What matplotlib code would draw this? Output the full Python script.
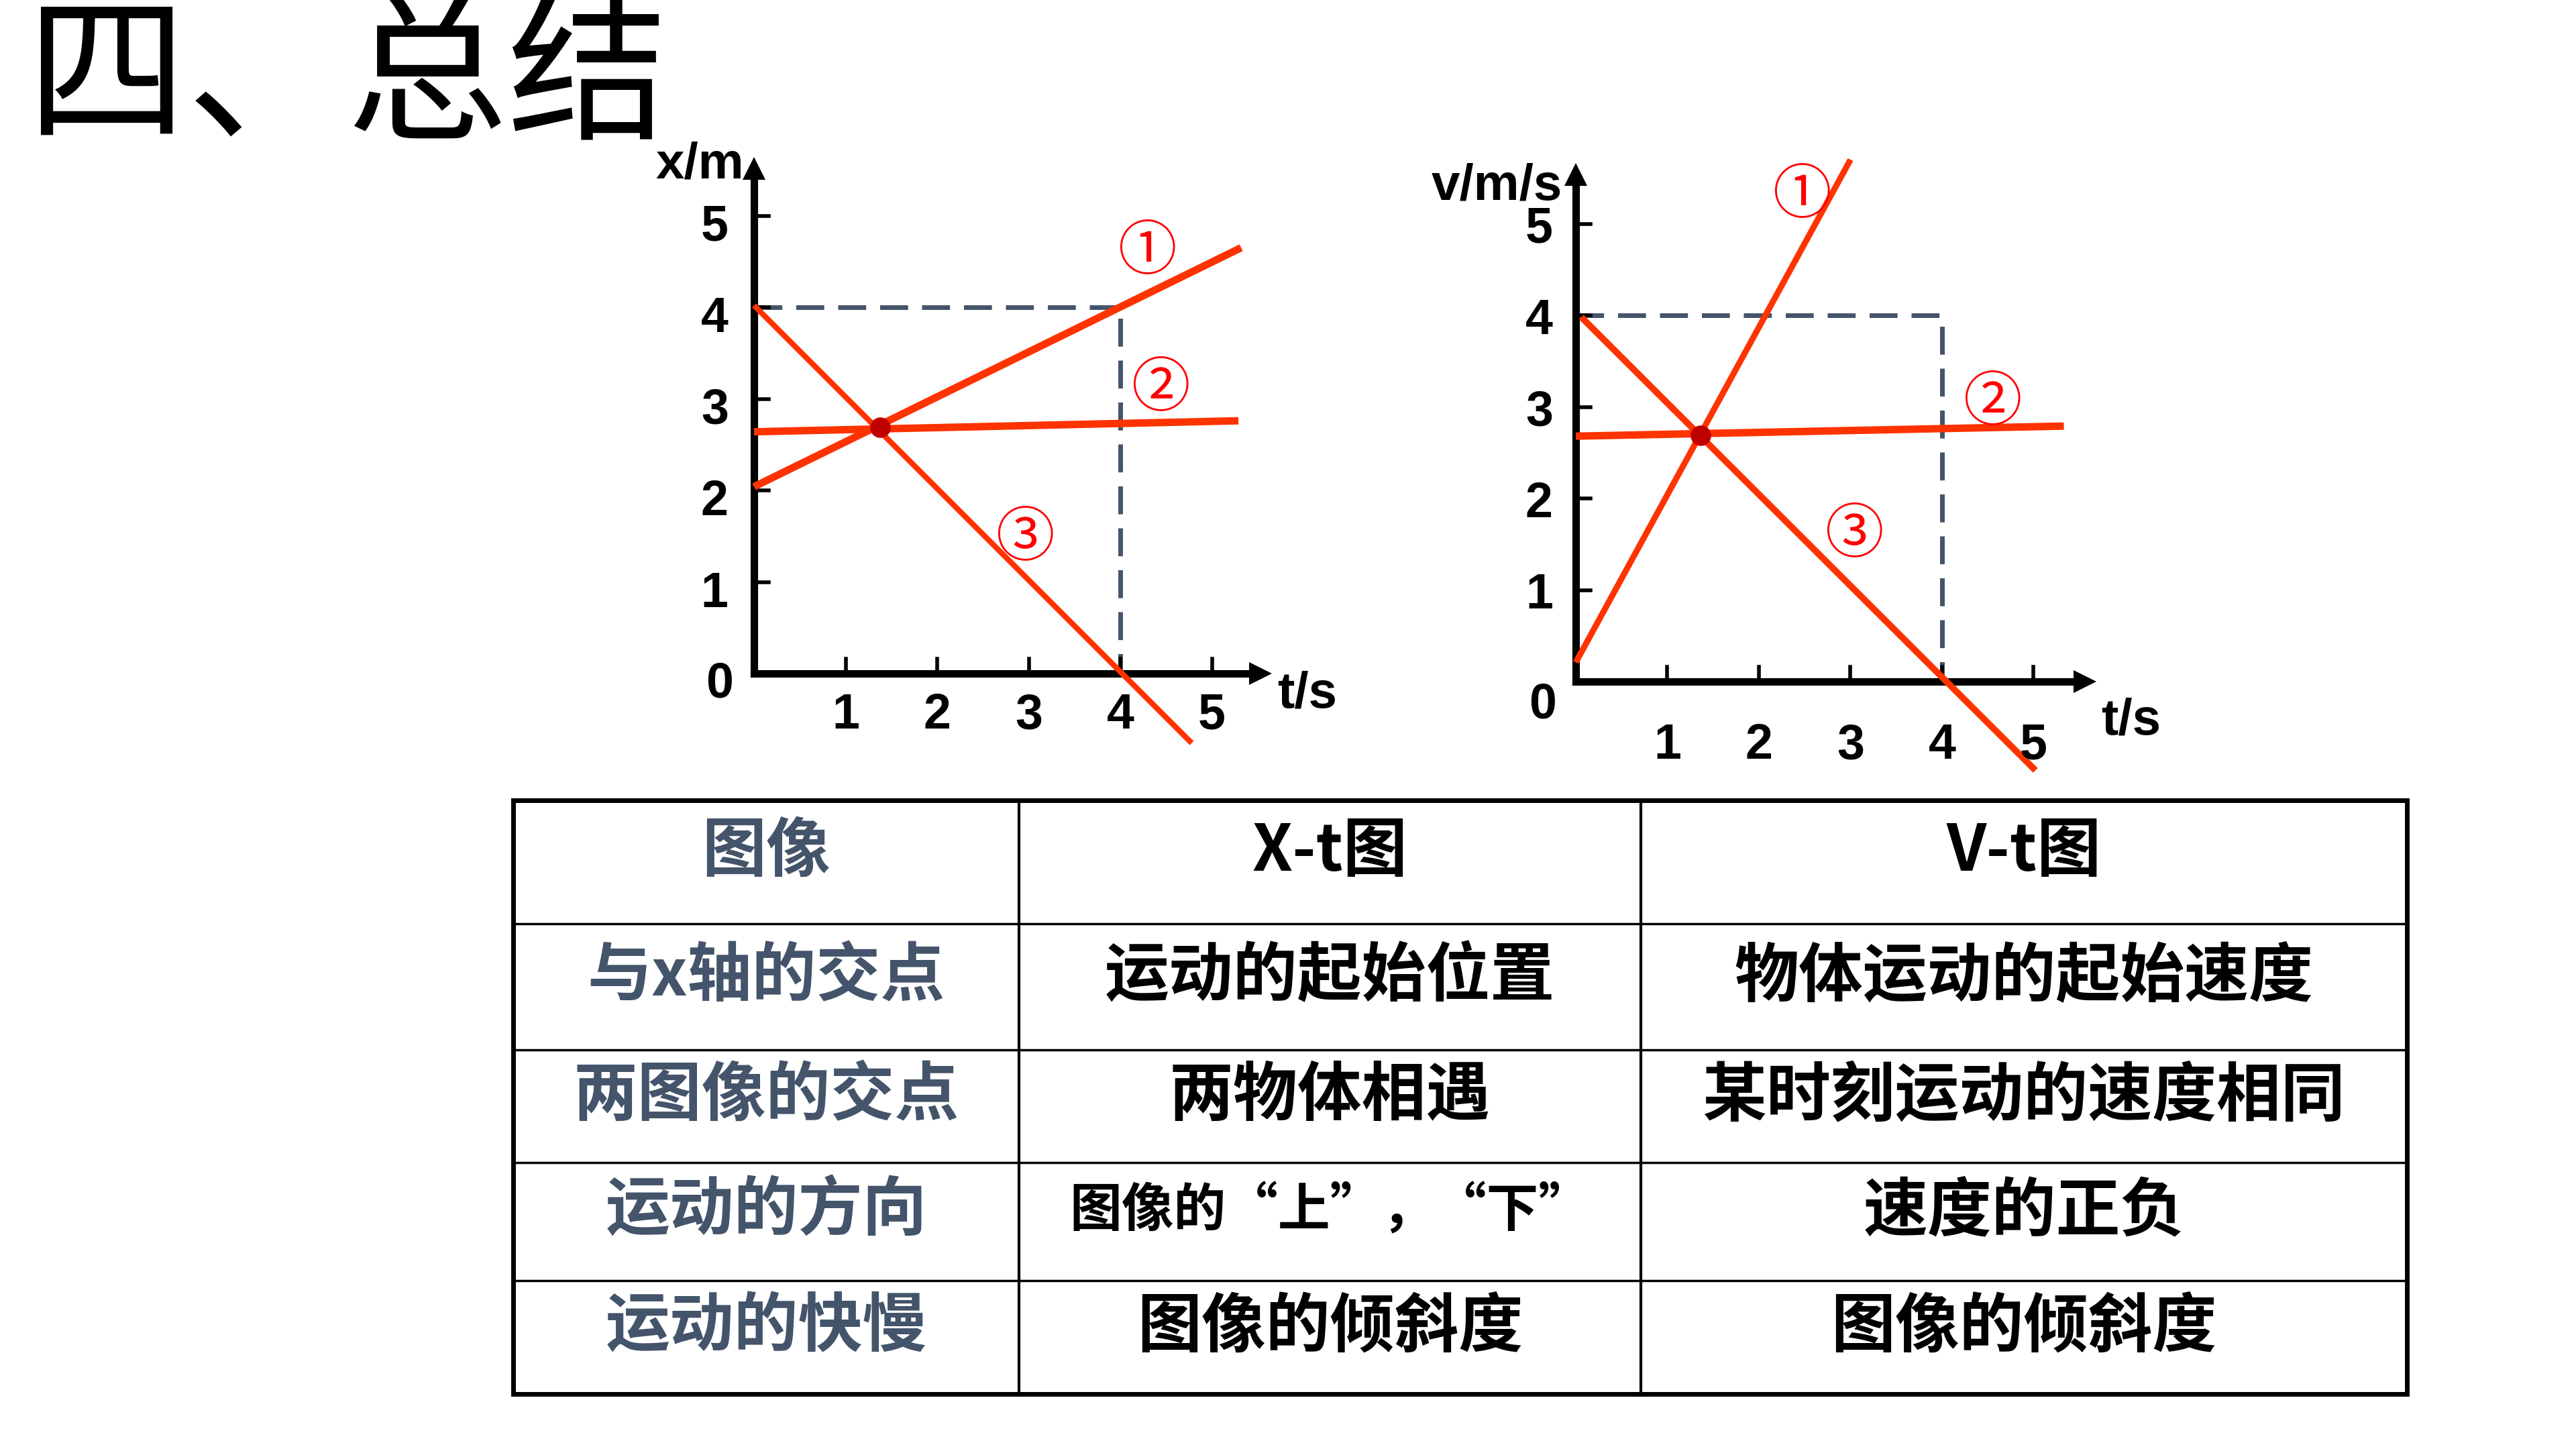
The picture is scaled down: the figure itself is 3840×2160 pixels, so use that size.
import matplotlib.pyplot as plt

W, H = 3840, 2160
CJK = ['Noto Sans CJK SC', 'DejaVu Sans']
RED = '#FF3300'
SLATE = '#44546A'

# x-t chart (t in s, x in m)
xt_ticks = [1, 2, 3, 4, 5]
xt_l1_t = [0.0, 5.32]
xt_l1_y = [2.04, 4.65]
xt_l2_t = [0.0, 5.29]
xt_l2_y = [2.64, 2.76]
xt_l3_t = [0.0, 4.78]
xt_l3_y = [4.02, -0.76]
xt_meet = [1.38, 2.69]
xt_guide_t = [0, 4, 4]
xt_guide_y = [4, 4, 0]

# v-t chart (t in s, v in m/s)
vt_ticks = [1, 2, 3, 4, 5]
vt_l1_t = [0.0, 3.0]
vt_l1_y = [0.21, 5.70]
vt_l2_t = [0.0, 5.33]
vt_l2_y = [2.68, 2.79]
vt_l3_t = [0.06, 5.02]
vt_l3_y = [3.98, -0.97]
vt_meet = [1.36, 2.69]
vt_guide_t = [0, 4, 4]
vt_guide_y = [4, 4, 0]

# summary table
col_header = ['图像', 'X-t图', 'V-t图']
row_labels = ['与x轴的交点', '两图像的交点', '运动的方向', '运动的快慢']
xt_col = ['运动的起始位置', '两物体相遇', '图像的“上”，“下”', '图像的倾斜度']
vt_col = ['物体运动的起始速度', '某时刻运动的速度相同', '速度的正负', '图像的倾斜度']
col_edges = [765, 1519, 2446, 3588]
row_edges = [1193, 1377, 1565, 1733, 1909, 2078]

fig = plt.figure(figsize=(W / 100, H / 100), dpi=100)
fig.patch.set_facecolor('white')

bg = fig.add_axes([0, 0, 1, 1])
bg.set_xlim(0, W)
bg.set_ylim(H, 0)
bg.axis('off')


def chart_axes(ox, oy, unit, t0=-1.2, t1=6.8, y0=-1.3, y1=6.3):
    ax = fig.add_axes([(ox + t0 * unit) / W, (H - (oy - y0 * unit)) / H,
                       (t1 - t0) * unit / W, (y1 - y0) * unit / H])
    ax.set_xlim(t0, t1)
    ax.set_ylim(y0, y1)
    ax.axis('off')
    return ax


def draw_frame(ax, ticks, ytop, xend, ylab, ylab_pos, tlab_pos, zero_pos, ylab_dx, ylab_dy, xlab_y):
    ax.plot([0, 0], [0, ytop - 0.2], color='black', lw=8, solid_capstyle='projecting')
    ax.plot([0, xend - 0.2], [0, 0], color='black', lw=8, solid_capstyle='projecting')
    ax.plot(0, ytop - 0.12, marker='^', ms=24, color='black', mew=0)
    ax.plot(xend - 0.12, 0, marker='>', ms=24, color='black', mew=0)
    for k in ticks:
        ax.plot([k, k], [0, 0.16], color='black', lw=4)
        ax.plot([0, 0.16], [k, k], color='black', lw=4)
        ax.text(k, xlab_y, str(k), ha='center', va='center', fontsize=53,
                fontweight='bold', family='Liberation Sans')
        ax.text(ylab_dx, k + ylab_dy, str(k), ha='center', va='center', fontsize=53,
                fontweight='bold', family='Liberation Sans')
    ax.text(zero_pos[0], zero_pos[1], '0', ha='center', va='center', fontsize=53,
            fontweight='bold', family='Liberation Sans')
    ax.text(ylab_pos[0], ylab_pos[1], ylab, ha='center', va='center', fontsize=55,
            fontweight='bold', family='Liberation Sans')
    ax.text(tlab_pos[0], tlab_pos[1], 't/s', ha='center', va='center', fontsize=55,
            fontweight='bold', family='Liberation Sans')


def mark(ax, t, y, s):
    ax.text(t, y, s, ha='center', va='center', fontsize=63, color='#FF0000',
            family=['Noto Sans CJK SC', 'DejaVu Sans'])


# left: x-t
ax1 = chart_axes(1124, 1004, 136.5)
ax1.plot(xt_guide_t, xt_guide_y, color=SLATE, lw=5, ls=(0, (6, 3)))
draw_frame(ax1, xt_ticks, 5.64, 5.65, 'x/m', (-0.59, 5.55), (6.04, -0.23),
           (-0.38, -0.12), -0.43, -0.13, -0.46)
ax1.plot(xt_l1_t, xt_l1_y, color=RED, lw=8, solid_capstyle='butt')
ax1.plot(xt_l2_t, xt_l2_y, color=RED, lw=8, solid_capstyle='butt')
ax1.plot(xt_l3_t, xt_l3_y, color=RED, lw=6, solid_capstyle='butt')
ax1.plot(xt_meet[0], xt_meet[1], 'o', ms=22, color='#C00000', mew=0)
mark(ax1, 4.29, 4.61, '①')
mark(ax1, 4.44, 3.11, '②')
mark(ax1, 2.96, 1.48, '③')

# right: v-t
ax2 = chart_axes(2349, 1016, 136.5)
ax2.plot(vt_guide_t, vt_guide_y, color=SLATE, lw=5, ls=(0, (6, 3)))
draw_frame(ax2, vt_ticks, 5.66, 5.68, 'v/m/s', (-0.86, 5.41), (6.06, -0.43),
           (-0.36, -0.26), -0.40, -0.06, -0.70)
ax2.plot(vt_l1_t, vt_l1_y, color=RED, lw=6.5, solid_capstyle='butt')
ax2.plot(vt_l2_t, vt_l2_y, color=RED, lw=8, solid_capstyle='butt')
ax2.plot(vt_l3_t, vt_l3_y, color=RED, lw=7, solid_capstyle='butt')
ax2.plot(vt_meet[0], vt_meet[1], 'o', ms=22, color='#C00000', mew=0)
mark(ax2, 2.47, 5.31, '①')
mark(ax2, 4.55, 3.05, '②')
mark(ax2, 3.04, 1.60, '③')

# title
bg.text(40, 122, '四、总结', ha='left', va='center', fontsize=172, family=CJK)

# table grid
x0, x1 = col_edges[0], col_edges[-1]
y0, y1 = row_edges[0], row_edges[-1]
for yy in row_edges[1:-1]:
    bg.plot([x0, x1], [yy, yy], color='black', lw=2.5)
for xx in col_edges[1:-1]:
    bg.plot([xx, xx], [y0, y1], color='black', lw=3)
bg.plot([x0, x1, x1, x0, x0], [y0, y0, y1, y1, y0], color='black', lw=5,
        solid_joinstyle='miter')

cx = [(col_edges[i] + col_edges[i + 1]) / 2 for i in range(3)]
cy = [(row_edges[i] + row_edges[i + 1]) / 2 - 15 for i in range(5)]

for i, s in enumerate(col_header):
    bg.text(cx[i], cy[0], s, ha='center', va='center', fontsize=69, fontweight='bold',
            family=CJK, color=SLATE if i == 0 else 'black')
for r in range(4):
    bg.text(cx[0], cy[r + 1], row_labels[r], ha='center', va='center', fontsize=69,
            fontweight='bold', family=CJK, color=SLATE)
    size = 56 if '“' in xt_col[r] else 69
    bg.text(cx[1], cy[r + 1], xt_col[r], ha='center', va='center', fontsize=size,
            fontweight='bold', family=CJK)
    bg.text(cx[2], cy[r + 1], vt_col[r], ha='center', va='center', fontsize=69,
            fontweight='bold', family=CJK)

fig.savefig('out.png', dpi=100, facecolor='white')
